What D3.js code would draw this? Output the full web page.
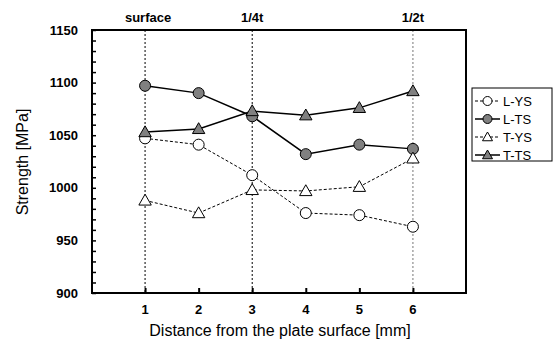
<!DOCTYPE html>
<html><head><meta charset="utf-8">
<script src="https://cdn.jsdelivr.net/npm/d3@7"></script>
<style>body{margin:0;background:#fff}svg{display:block}text{font-family:"Liberation Sans",Arial,sans-serif}</style>
</head><body><svg id="c" width="553" height="351"></svg>
<script>
const xs = [1,2,3,4,5,6];
const LYS = [1047,1041,1012,976,974,963];
const LTS = [1097,1090,1068,1032,1041,1037];
const TYS = [988,976,998,997,1001,1028];
const TTS = [1053,1056,1073,1069,1076,1092];
const yTicks = [900,950,1000,1050,1100,1150];
const xTicks = [1,2,3,4,5,6];
const refX = [1,3,6];
const refLabels = ["surface","1/4t","1/2t"];

const series = [
  {name:"L-YS", vals:LYS, shape:"circle", fill:"#fff", dash:"3,2", w:1},
  {name:"L-TS", vals:LTS, shape:"circle", fill:"#808080", dash:null, w:1.5},
  {name:"T-YS", vals:TYS, shape:"tri", fill:"#fff", dash:"3,2", w:1},
  {name:"T-TS", vals:TTS, shape:"tri", fill:"#808080", dash:null, w:1.5}
];

const svg = d3.select("#c");
const L=92, R=466, T=30, B=293;
const x = d3.scaleLinear().domain([0,7]).range([L-0.5,R+0.5]);
const y = d3.scaleLinear().domain([900,1150]).range([B,T]);

// reference lines
refX.forEach((v,i)=>{
  svg.append("line").attr("x1",x(v)).attr("x2",x(v)).attr("y1",T).attr("y2",B)
    .attr("stroke", i===2?"#777":"#000").attr("stroke-width",1).attr("stroke-dasharray","2,2");
  svg.append("text").attr("x",x(v)+(i===0?3:0)).attr("y",22).attr("text-anchor","middle")
    .attr("font-size",13).attr("font-weight","bold").text(refLabels[i]);
});

// y minor ticks
const yAxis = d3.axisLeft(y).tickValues(d3.range(900,1151,10)).tickSize(-4).tickFormat("");
const ga = svg.append("g").attr("transform",`translate(${L},0)`).call(yAxis);
ga.select(".domain").remove();
ga.selectAll("line").attr("stroke","#000").attr("stroke-width",1.5);
// y labels
yTicks.forEach(v=>{
  svg.append("text").attr("x",78).attr("y",y(v)+4.5).attr("text-anchor","end")
    .attr("font-size",13).attr("font-weight","bold").text(v);
});
// x ticks
const xAxis = d3.axisBottom(x).tickValues(xTicks).tickSize(-5).tickFormat("");
const gx = svg.append("g").attr("transform",`translate(0,${B})`).call(xAxis);
gx.select(".domain").remove();
gx.selectAll("line").attr("stroke","#000").attr("stroke-width",2);
xTicks.forEach(v=>{
  svg.append("text").attr("x",x(v)).attr("y",314).attr("text-anchor","middle")
    .attr("font-size",13).attr("font-weight","bold").text(v);
});
// frame
svg.append("rect").attr("x",L).attr("y",T).attr("width",R-L).attr("height",B-T)
  .attr("fill","none").attr("stroke","#000").attr("stroke-width",2);

function marker(g, shape, cx, cy, fill){
  if(shape==="circle"){
    g.append("circle").attr("cx",cx).attr("cy",cy).attr("r",5.5).attr("fill",fill).attr("stroke","#000").attr("stroke-width",1);
  } else {
    const s=6.2;
    g.append("path").attr("d",`M${cx},${cy-s}L${cx+s},${cy+s*0.75}L${cx-s},${cy+s*0.75}Z`)
      .attr("fill",fill).attr("stroke","#000").attr("stroke-width",1);
  }
}

const line = d3.line().x((d,i)=>x(xs[i])).y(d=>y(d));
series.forEach(s=>{
  svg.append("path").datum(s.vals).attr("d",line).attr("fill","none").attr("stroke","#000")
    .attr("stroke-width",s.w).attr("stroke-dasharray",s.dash);
  const g = svg.append("g");
  s.vals.forEach((v,i)=>marker(g,s.shape,x(xs[i]),y(v),s.fill));
});

// legend
svg.append("rect").attr("x",472).attr("y",88).attr("width",80).attr("height",73)
  .attr("fill","#fff").attr("stroke","#000").attr("stroke-width",1);
series.forEach((s,i)=>{
  const ly = 101 + i*18;
  svg.append("line").attr("x1",475).attr("x2",500).attr("y1",ly).attr("y2",ly)
    .attr("stroke","#000").attr("stroke-width",s.w).attr("stroke-dasharray",s.dash);
  const g = svg.append("g");
  if(s.shape==="circle"){
    g.append("circle").attr("cx",487.5).attr("cy",ly).attr("r",4.5).attr("fill",s.fill).attr("stroke","#000");
  } else {
    const q=5;
    g.append("path").attr("d",`M487.5,${ly-q}L${487.5+q},${ly+q*0.75}L${487.5-q},${ly+q*0.75}Z`).attr("fill",s.fill).attr("stroke","#000");
  }
  svg.append("text").attr("x",503).attr("y",ly+5).attr("font-size",13).text(s.name);
});

// axis titles
svg.append("text").attr("x",280).attr("y",336).attr("text-anchor","middle").attr("font-size",16).text("Distance from the plate surface [mm]");
svg.append("text").attr("transform","translate(28,162) rotate(-90)").attr("text-anchor","middle").attr("font-size",16).text("Strength [MPa]");
</script></body></html>
